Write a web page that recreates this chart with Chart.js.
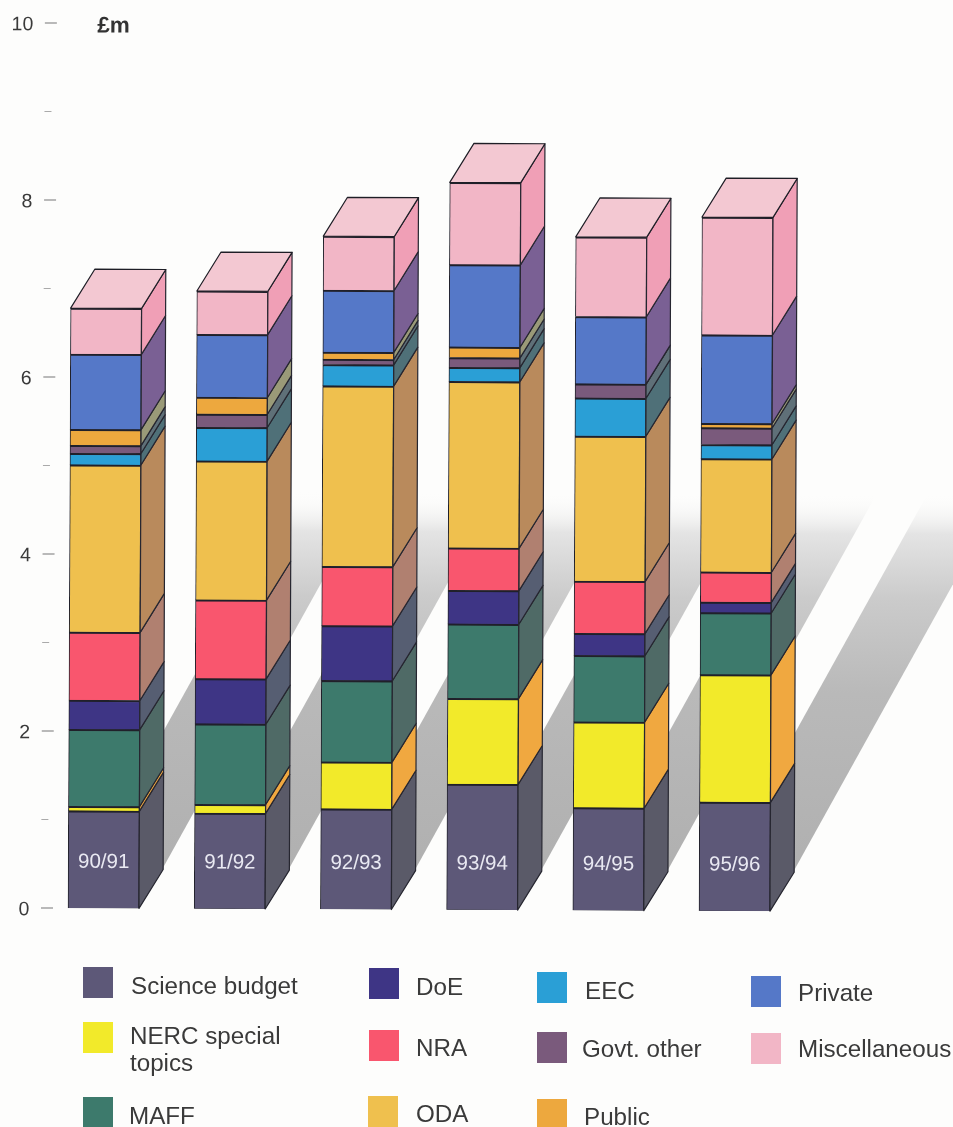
<!DOCTYPE html>
<html>
<head>
<meta charset="utf-8">
<title>Funding by source, 90/91 to 95/96</title>
<script src="https://cdn.jsdelivr.net/npm/chart.js@4/dist/chart.umd.min.js"></script>
<style>
  html, body { margin: 0; padding: 0; background: #fdfdfc; overflow: hidden; }
  canvas { display: block; }
</style>
</head>
<body>
<canvas id="chart" width="953" height="1127"></canvas>
<script>
// Financial years and funding by source, in £m.
const categories    = ['90/91', '91/92', '92/93', '93/94', '94/95', '95/96'];
const scienceBudget = [1.10, 1.08, 1.135, 1.42, 1.16, 1.23];
const nercTopics    = [0.05, 0.10, 0.53, 0.97, 0.97, 1.44];
const maff          = [0.87, 0.91, 0.92, 0.84, 0.75, 0.70];
const doe           = [0.33, 0.51, 0.62, 0.38, 0.25, 0.12];
const nra           = [0.77, 0.89, 0.67, 0.48, 0.59, 0.34];
const oda           = [1.89, 1.57, 2.04, 1.88, 1.64, 1.28];
const eec           = [0.13, 0.38, 0.24, 0.16, 0.43, 0.16];
const govtOther     = [0.09, 0.15, 0.06, 0.11, 0.16, 0.19];
const publicFunds   = [0.18, 0.19, 0.08, 0.12, 0.00, 0.05];
const privateFunds  = [0.85, 0.71, 0.70, 0.93, 0.76, 1.00];
const miscellaneous = [0.52, 0.49, 0.61, 0.93, 0.90, 1.33];

const seriesNames  = ['Science budget', 'NERC special topics', 'MAFF', 'DoE', 'NRA', 'ODA', 'EEC', 'Govt. other', 'Public', 'Private', 'Miscellaneous'];
const seriesValues = [scienceBudget, nercTopics, maff, doe, nra, oda, eec, govtOther, publicFunds, privateFunds, miscellaneous];
const frontColors  = ['#5d5878', '#f2ea2a', '#3d7a6c', '#3e3585', '#f9566e', '#efc04e', '#2a9fd6', '#7a5a7c', '#eda83e', '#5578c8', '#f2b6c6'];
const sideColors   = ['#5a5a68', '#f0a840', '#4f6a66', '#565e72', '#b08070', '#b98a5c', '#4f7078', '#5f7078', '#9a9a78', '#7a6094', '#f09fb6'];
const topColor     = '#f3c8d2';

// Oblique offset of the back face of every column.
const DEPTH_X = 24;
const DEPTH_Y = -39;
const TILT = 0.25 * Math.PI / 180;
const FONT = '"Liberation Sans", Arial, sans-serif';

// Legend placement: swatch corner, text start and one or two text lines.
const legendLayout = [
  { sx: 83,  sy: 967,  tx: 131, ty: 987,  lines: ['Science budget'] },
  { sx: 83,  sy: 1022, tx: 130, ty: 1037, lines: ['NERC special', 'topics'] },
  { sx: 83,  sy: 1097, tx: 129, ty: 1117, lines: ['MAFF'] },
  { sx: 369, sy: 968,  tx: 416, ty: 988,  lines: ['DoE'] },
  { sx: 369, sy: 1030, tx: 416, ty: 1049, lines: ['NRA'] },
  { sx: 368, sy: 1096, tx: 416, ty: 1115, lines: ['ODA'] },
  { sx: 537, sy: 972,  tx: 585, ty: 992,  lines: ['EEC'] },
  { sx: 537, sy: 1032, tx: 582, ty: 1050, lines: ['Govt. other'] },
  { sx: 537, sy: 1099, tx: 584, ty: 1118, lines: ['Public'] },
  { sx: 751, sy: 976,  tx: 798, ty: 994,  lines: ['Private'] },
  { sx: 751, sy: 1033, tx: 798, ty: 1050, lines: ['Miscellaneous'] }
];

function poly(ctx, pts, fill, stroke) {
  ctx.beginPath();
  pts.forEach((p, i) => (i ? ctx.lineTo(p[0], p[1]) : ctx.moveTo(p[0], p[1])));
  ctx.closePath();
  ctx.fillStyle = fill;
  ctx.fill();
  if (stroke) {
    ctx.strokeStyle = stroke;
    ctx.lineWidth = 1.2;
    ctx.stroke();
  }
}

const column3d = {
  id: 'column3d',
  beforeDraw(chart) {
    const ctx = chart.ctx;
    ctx.save();
    ctx.fillStyle = '#fdfdfc';
    ctx.fillRect(0, 0, chart.width, chart.height);
    ctx.restore();
    // The whole plot sits very slightly askew on the page.
    const base = chart.scales.y.getPixelForValue(0);
    ctx.save();
    ctx.translate(40, base);
    ctx.rotate(TILT);
    ctx.translate(-40, -base);
  },
  beforeDatasetsDraw(chart) {
    const ctx = chart.ctx;
    const yScale = chart.scales.y;
    const xScale = chart.scales.x;
    const base = yScale.getPixelForValue(0);

    // Tick marks: long on even values, short on odd ones.
    ctx.save();
    for (let v = 0; v <= 10; v++) {
      const y = yScale.getPixelForValue(v);
      ctx.beginPath();
      ctx.moveTo(41, y);
      ctx.lineTo(v % 2 ? 48 : 53, y);
      ctx.strokeStyle = v % 2 ? '#aaa' : '#777';
      ctx.lineWidth = 1;
      ctx.stroke();
    }
    ctx.restore();

    // Cast shadows: bands that climb to the right and fade out.
    const fadeTop = 490;
    const span = base - fadeTop;
    const grad = ctx.createLinearGradient(0, base, 0, fadeTop);
    grad.addColorStop(0, '#aeaeae');
    grad.addColorStop(1 - 200 / span, '#b9b9b9');
    grad.addColorStop(1 - 105 / span, '#cbcbcb');
    grad.addColorStop(1 - 40 / span, '#e4e4e4');
    grad.addColorStop(1, 'rgba(253,253,252,0)');
    const slope = 1.82;
    const band = 137;
    categories.forEach((c, i) => {
      const x0 = xScale.getPixelForValue(i) + 35.5 + DEPTH_X;
      const low = base + DEPTH_Y - 2;
      const x1 = x0 + (low - fadeTop) / slope;
      const x2 = x0 + (low - band - fadeTop) / slope;
      poly(ctx, [[x0, low], [x1, fadeTop], [x2, fadeTop], [x0, low - band]], grad);
    });
  },
  afterDatasetsDraw(chart) {
    const ctx = chart.ctx;
    ctx.save();
    ctx.lineJoin = 'round';
    seriesValues.forEach((vals, s) => {
      chart.getDatasetMeta(s).data.forEach((bar) => {
        const r = bar.x + bar.width / 2;
        const t = bar.y;
        const b = bar.base;
        poly(ctx, [[r, t], [r + DEPTH_X, t + DEPTH_Y], [r + DEPTH_X, b + DEPTH_Y], [r, b]], sideColors[s], '#262630');
      });
    });
    // Roof of each column.
    const last = chart.getDatasetMeta(seriesValues.length - 1).data;
    last.forEach((bar) => {
      const l = bar.x - bar.width / 2;
      const r = bar.x + bar.width / 2;
      poly(ctx, [[l, bar.y], [l + DEPTH_X, bar.y + DEPTH_Y], [r + DEPTH_X, bar.y + DEPTH_Y], [r, bar.y]], topColor, '#1e1e26');
    });
    // Year label on the lowest block.
    ctx.fillStyle = '#e9e9f2';
    ctx.font = '20.5px ' + FONT;
    ctx.textAlign = 'center';
    ctx.textBaseline = 'middle';
    chart.getDatasetMeta(0).data.forEach((bar, i) => {
      ctx.fillText(categories[i], bar.x, bar.base - 46);
    });
    // Unit label at the top of the value axis.
    ctx.fillStyle = '#333';
    ctx.font = 'bold 22.5px ' + FONT;
    ctx.textAlign = 'left';
    ctx.fillText('£m', 93.5, chart.scales.y.getPixelForValue(10) + 3);
    ctx.restore();
  },
  afterDraw(chart) {
    const ctx = chart.ctx;
    ctx.restore();
    // Legend, placed by hand in three rows and four columns.
    ctx.save();
    ctx.textAlign = 'left';
    ctx.textBaseline = 'middle';
    ctx.font = '24.2px ' + FONT;
    legendLayout.forEach((item, s) => {
      ctx.fillStyle = frontColors[s];
      ctx.fillRect(item.sx, item.sy, 30, 31);
      ctx.fillStyle = '#3a3a3a';
      item.lines.forEach((line, k) => ctx.fillText(line, item.tx, item.ty + k * 27));
    });
    ctx.restore();
  }
};

new Chart(document.getElementById('chart'), {
  type: 'bar',
  data: {
    labels: categories,
    datasets: seriesValues.map((values, s) => ({
      label: seriesNames[s],
      data: values,
      backgroundColor: frontColors[s],
      borderColor: '#20202a',
      borderWidth: { top: 2, left: 1, right: 1, bottom: 0.5 },
      borderSkipped: false,
      barThickness: 71
    }))
  },
  options: {
    responsive: false,
    animation: false,
    layout: { padding: { left: 0, right: 155.4, top: 23, bottom: 219 } },
    plugins: { legend: { display: false }, tooltip: { enabled: false } },
    scales: {
      x: { stacked: true, display: false, offset: true, grid: { display: false } },
      y: {
        stacked: true,
        min: 0,
        max: 10,
        grid: { display: false, drawTicks: false },
        border: { display: false },
        afterFit(scale) { scale.width = 40.4; },
        ticks: {
          stepSize: 1,
          autoSkip: false,
          padding: 11,
          labelOffset: 2,
          color: '#3a3a3a',
          font: { family: FONT, size: 19.5 },
          callback: (v) => (v % 2 === 0 ? String(v) : '')
        }
      }
    }
  },
  plugins: [column3d]
});
</script>
</body>
</html>
